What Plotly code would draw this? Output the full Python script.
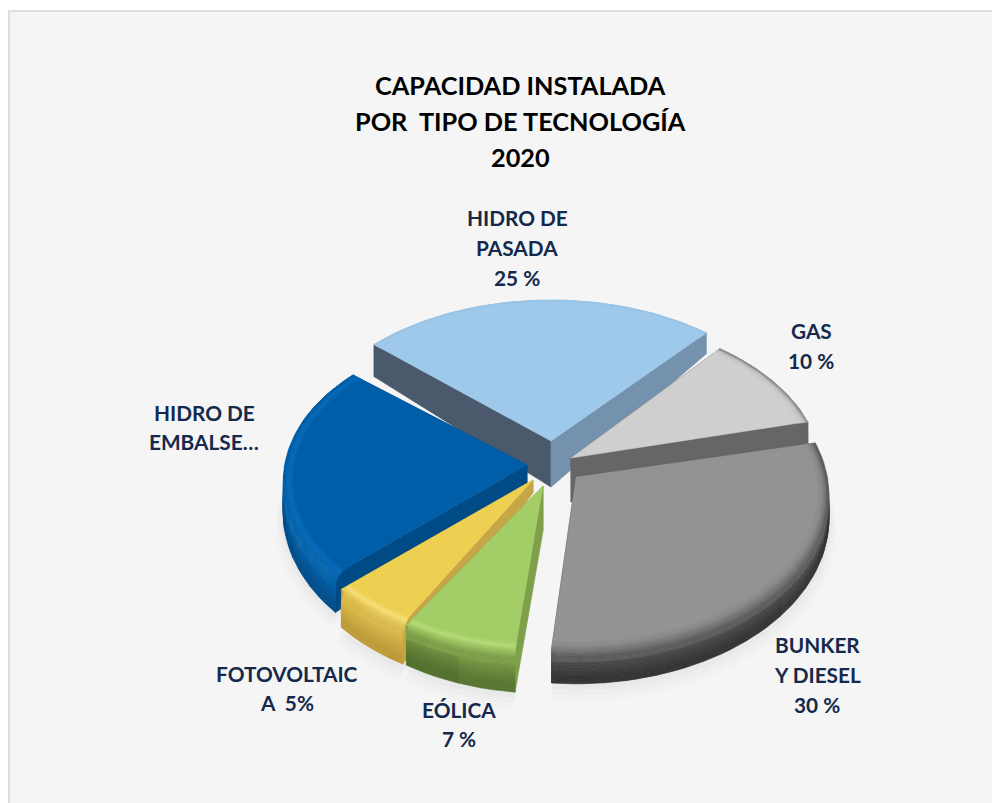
import math
import plotly.graph_objects as go

# ---- data ----
categories = ["HIDRO DE PASADA", "GAS", "BUNKER Y DIESEL", "EÓLICA", "FOTOVOLTAICA", "HIDRO DE EMBALSE"]
values = [25, 10, 30, 7, 5, 23]
title_lines = ["CAPACIDAD INSTALADA", "POR  TIPO DE TECNOLOGÍA", "2020"]
label_lines = [
    ["HIDRO DE", "PASADA", "25 %"],
    ["GAS", "10 %"],
    ["BUNKER", "Y DIESEL", "30 %"],
    ["EÓLICA", "7 %"],
    ["FOTOVOLTAIC", "A  5%"],
    ["HIDRO DE", "EMBALSE…"],
]

# ---- layout constants ----
START_ANGLE = -50
R, RK, D = 258, 159, 0.105
apex = [(551, 441), (571, 458), (576, 477), (543, 486), (533, 480), (527, 465)]
scale = [0.98, 0.97, 0.975, 0.93, 0.94, 0.94]
rot = [1.5, 0, 1, 2, 0, 0]
height = [1.0, 1.0, 0.8, 1.0, 1.0, 1.0]
apex_h = [46, 44, 30, 45, 13, 18]
cut_start_extra = [10, 0, 0, 0, 0, 0]
outer_wall = [False, True, True, True, True, True]
label_pos = [(517, 218), (811, 331), (817, 645), (459, 710), (287, 674), (204, 413)]
LINE_GAP = [30, 30, 30, 29, 29, 29]
draw_order = [0, 1, 5, 2, 4, 3]
shadow_slices = [5, 2, 4, 3]

style = [
    dict(top="#9fc9ea", bevel=["#9fc9ea", "#9fc9ea", "#9fc9ea", "#9ac4e5"], wall=["#7492ad"] * 3,
         cut0="#4a5a6c", cut1="#7492ad", m=(1, 1)),
    dict(top="#cfcfcf", bevel=["#cfcfcf", "#cacaca", "#bcbcbc", "#8f8f8f"], wall=["#666666"] * 3,
         cut0="#666666", cut1="#666666", m=(1, 1)),
    dict(top="#939393", bevel=["#919191", "#8a8a8a", "#747474", "#5a5a5a"],
         wall=["#4a4a4a", "#3e3e3e", "#343434"], cut0="#555555", cut1="#555555", m=(1, 1)),
    dict(top="#a3cd66", bevel=["#a6d069", "#b4da78", "#94ba5a", "#7c9e48"],
         wall=["#6f8f40", "#5f7d36", "#55722e"], cut0="#7fa04a", cut1="#7fa04a", m=(1.08, 0.95)),
    dict(top="#edd052", bevel=["#eed356", "#f5df7c", "#e4c552", "#d9b94a"],
         wall=["#cfae45", "#c4a23e", "#b99838"], cut0="#c6a647", cut1="#c6a647", m=(1.0, 1.05)),
    dict(top="#005ea8", bevel=["#005fab", "#0a6cb8", "#0866b0", "#0060a8"],
         wall=["#00599f", "#00508f", "#004a86"], cut0="#004a86", cut1="#004a86", m=(1.05, 0.95)),
]

BEVEL = [(0.955, 0.0), (0.97, 0.03), (0.985, 0.10), (0.995, 0.2), (1.0, 0.35)]
WALL = [0.35, 0.6, 0.8, 1.0]
SUB = 3   # sub-bands per gradient step


def project(i, theta, rf=1.0, z=0.0):
    a = math.radians(theta)
    x, y = math.sin(a) * rf, math.cos(a) * rf
    p = 1 / (1 + D * y)
    return (apex[i][0] + R * scale[i] * x * p, apex[i][1] - RK * scale[i] * y * p + z)


def rim_h(i, theta):
    return height[i] * (30 - 12 * math.cos(math.radians(theta)))


def front(theta):
    return max(0.0, min(1.0, (0.3 - math.cos(math.radians(theta))) / 0.6))


def rgb(col):
    return [int(col[k:k + 2], 16) for k in (1, 3, 5)]


def mix(c0, c1, f, m=1.0):
    a, b = rgb(c0), rgb(c1)
    return "#%02x%02x%02x" % tuple(min(255, int((x + (y - x) * f) * m)) for x, y in zip(a, b))


fig = go.Figure()


def poly(pts, color, lw=0.7):
    xs = [p[0] for p in pts] + [pts[0][0]]
    ys = [p[1] for p in pts] + [pts[0][1]]
    fig.add_trace(go.Scatter(x=xs, y=ys, mode="lines", fill="toself", fillcolor=color,
                             line=dict(color=color, width=lw), hoverinfo="skip", showlegend=False))


# angular spans from the values
total = sum(values)
spans = []
cursor = START_ANGLE
for i, v in enumerate(values):
    spans.append((cursor + rot[i], cursor + rot[i] + v / total * 360))
    cursor += v / total * 360


def arc(t0, t1, n=None):
    n = n or max(2, int(abs(t1 - t0) / 1.5))
    return [t0 + (t1 - t0) * k / n for k in range(n + 1)]


# soft shadow under the front slices
for i in shadow_slices:
    t0, t1 = spans[i]
    for extra, alpha in [(12, 0.012), (8, 0.015), (4, 0.02)]:
        pts = [(apex[i][0], apex[i][1] + 20)]
        pts += [project(i, t, 1.0 + extra / 400, rim_h(i, t) + extra) for t in arc(t0, t1)]
        poly(pts, "rgba(0,0,0,%s)" % alpha, 0)

for i in draw_order:
    t0, t1 = spans[i]
    st = style[i]
    ax, ay = apex[i]
    # cut faces
    for t, col, extra in [(t0, st["cut0"], cut_start_extra[i]), (t1, st["cut1"], 0)]:
        poly([(ax, ay), (ax, ay + apex_h[i]), project(i, t, 1, rim_h(i, t) + extra), project(i, t)], col)
    # outer wall, split in buckets along the arc
    if outer_wall[i]:
        nb = max(1, int((t1 - t0) / 10))
        edges = arc(t0, t1, nb)
        for k in range(nb):
            ts = arc(edges[k], edges[k + 1], 5)
            m = st["m"][0] + (st["m"][1] - st["m"][0]) * (k + 0.5) / nb
            for b in range(len(WALL) - 1):
                c0 = st["wall"][b]
                c1 = st["wall"][min(b + 1, len(st["wall"]) - 1)]
                for s in range(SUB):
                    z0 = WALL[b] + (WALL[b + 1] - WALL[b]) * s / SUB
                    z1 = WALL[b] + (WALL[b + 1] - WALL[b]) * (s + 1) / SUB
                    up = [project(i, t, 1, rim_h(i, t) * z0 * (front(t) if z0 == WALL[0] else 1)) for t in ts]
                    lo = [project(i, t, 1, rim_h(i, t) * z1) for t in reversed(ts)]
                    poly(up + lo, mix(c0, c1, s / SUB, m))
    # top face
    poly([(ax, ay)] + [project(i, t) for t in arc(t0, t1)], st["top"], 0.5)
    # bevel ring
    ts = arc(t0, t1)
    for b in range(len(BEVEL) - 1):
        r0, z0 = BEVEL[b]
        r1, z1 = BEVEL[b + 1]
        c0 = st["bevel"][b]
        c1 = st["bevel"][min(b + 1, len(st["bevel"]) - 1)]
        for s in range(SUB):
            f0, f1 = s / SUB, (s + 1) / SUB
            up = [project(i, t, r0 + (r1 - r0) * f0, rim_h(i, t) * (z0 + (z1 - z0) * f0) * front(t)) for t in ts]
            lo = [project(i, t, r0 + (r1 - r0) * f1, rim_h(i, t) * (z0 + (z1 - z0) * f1) * front(t)) for t in reversed(ts)]
            poly(up + lo, mix(c0, c1, f0), 0.5)

annotations = []
for line, y in zip(title_lines, [85, 121, 157]):
    annotations.append(dict(x=520, y=y, text=line, showarrow=False, xref="x", yref="y",
                            font=dict(family="Lato", size=25.3, color="#000000", weight="bold")))
for lines, (x, y), gap in zip(label_lines, label_pos, LINE_GAP):
    for k, line in enumerate(lines):
        annotations.append(dict(x=x, y=y + k * gap - 1, text=line, showarrow=False, xref="x", yref="y",
                                font=dict(family="Lato", size=20.8, color="#14294b", weight="bold")))

fig.update_layout(
    width=992, height=803, margin=dict(l=0, r=0, t=0, b=0),
    paper_bgcolor="#ffffff", plot_bgcolor="#ffffff", showlegend=False,
    xaxis=dict(range=[0, 992], visible=False, fixedrange=True),
    yaxis=dict(range=[803, 0], visible=False, fixedrange=True),
    annotations=annotations,
    shapes=[dict(type="rect", xref="x", yref="y", x0=9, y0=11, x1=1000, y1=810, layer="below",
                 fillcolor="#f5f5f5", line=dict(color="#dedede", width=2))],
)

fig.write_html("out.html", config=dict(displayModeBar=False),
               post_script="document.body.style.margin='0';document.body.style.overflow='hidden';")
